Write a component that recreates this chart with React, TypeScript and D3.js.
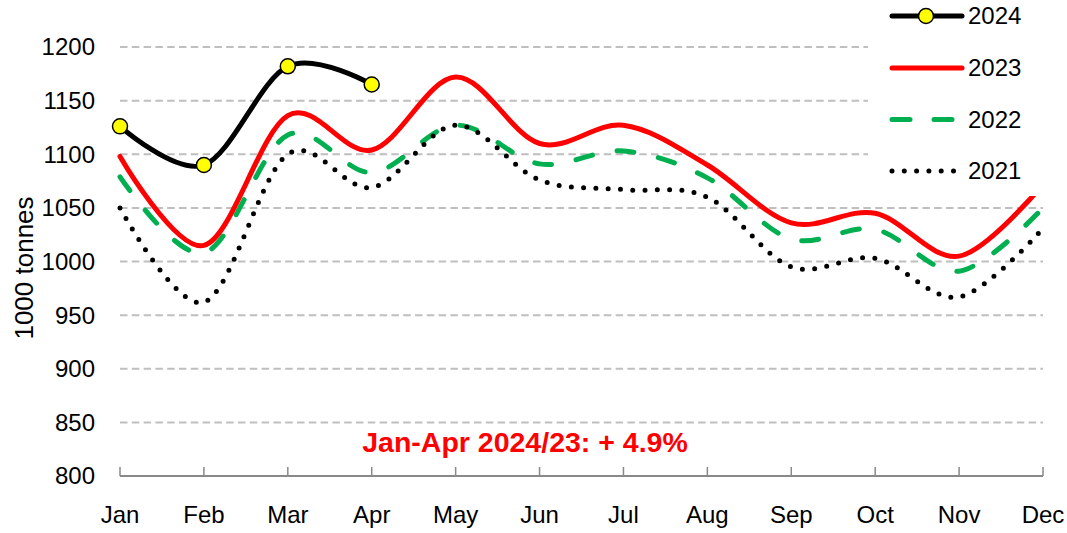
import React from "react";
import * as d3 from "d3";

const months = ["Jan", "Feb", "Mar", "Apr", "May", "Jun", "Jul", "Aug", "Sep", "Oct", "Nov", "Dec"];
const yTicks = [800, 850, 900, 950, 1000, 1050, 1100, 1150, 1200];
const s2024 = [1126, 1090, 1182, 1165];
const s2023 = [1098, 1015, 1136, 1104, 1172, 1110, 1127, 1090, 1036, 1045, 1005, 1072];
const s2022 = [1079, 1008, 1118, 1083, 1127, 1091, 1103, 1078, 1021, 1030, 991, 1050];
const s2021 = [1050, 962, 1100, 1069, 1127, 1076, 1067, 1060, 995, 1003, 967, 1031];
const annotation = "Jan-Apr 2024/23: + 4.9%";
const yTitle = "1000 tonnes";

const W = 1067, H = 533;
const FONT = "'Liberation Sans', Arial, sans-serif";

export default function App() {
  const x = d3.scalePoint<string>().domain(months).range([120, 1043]);
  const y = d3.scaleLinear().domain([800, 1200]).range([476, 47]);
  const line = d3
    .line<number>()
    .x((_, i) => x(months[i]) as number)
    .y((d) => y(d))
    .curve(d3.curveCardinal.tension(0));

  const series = [
    { name: "2022", data: s2022, color: "#00b050", dash: "17 25", cap: "round" },
    { name: "2021", data: s2021, color: "#000000", dash: "0 12.3", cap: "round" },
    { name: "2023", data: s2023, color: "#ff0000", dash: undefined, cap: "round" },
    { name: "2024", data: s2024, color: "#000000", dash: undefined, cap: "round" },
  ];

  const legend = [
    { name: "2024", y: 16, color: "#000", dash: undefined, marker: true },
    { name: "2023", y: 68, color: "#ff0000", dash: undefined, marker: false },
    { name: "2022", y: 119.5, color: "#00b050", dash: "18 24", marker: false },
    { name: "2021", y: 171, color: "#000", dash: "0 12.3", marker: false },
  ];

  return (
    <svg
      width={W}
      height={H}
      style={{ position: "absolute", left: 0, top: 0, background: "#fff" }}
      fontFamily={FONT}
    >
      <rect x={0} y={0} width={W} height={H} fill="#fff" />
      {/* gridlines */}
      {yTicks.filter((t) => t > 800).map((t) => (
        <line
          key={t}
          x1={120}
          x2={1043}
          y1={y(t)}
          y2={y(t)}
          stroke="#bfbfbf"
          strokeWidth={2}
          strokeDasharray="7.5 4.3"
        />
      ))}
      {/* axis */}
      <line x1={120} x2={1043} y1={y(800)} y2={y(800)} stroke="#898989" strokeWidth={2} />
      {months.map((m) => (
        <line
          key={m}
          x1={x(m)}
          x2={x(m)}
          y1={y(800)}
          y2={y(800) - 9}
          stroke="#898989"
          strokeWidth={1.5}
        />
      ))}
      {/* y tick labels */}
      {yTicks.map((t) => (
        <text key={t} x={95} y={y(t)} dy="0.35em" textAnchor="end" fontSize={24} fill="#000">
          {t}
        </text>
      ))}
      {/* x labels */}
      {months.map((m) => (
        <text key={m} x={x(m)} y={523} textAnchor="middle" fontSize={24} fill="#000">
          {m}
        </text>
      ))}
      {/* y title */}
      <text
        transform={`translate(24,268) rotate(-90)`}
        textAnchor="middle"
        dy="0.35em"
        fontSize={26}
        fill="#000"
      >
        {yTitle}
      </text>
      {/* series */}
      {series.map((s) => (
        <path
          key={s.name}
          d={line(s.data) || ""}
          fill="none"
          stroke={s.color}
          strokeWidth={5}
          strokeDasharray={s.dash}
          strokeLinecap={s.cap as any}
          strokeLinejoin="round"
        />
      ))}
      {s2024.map((v, i) => (
        <circle
          key={i}
          cx={x(months[i])}
          cy={y(v)}
          r={7.5}
          fill="#ffff00"
          stroke="#000"
          strokeWidth={1.5}
        />
      ))}
      {/* annotation */}
      <text x={525} y={452} textAnchor="middle" fontSize={28.5} fontWeight="bold" fill="#ff0000">
        {annotation}
      </text>
      {/* legend */}
      <rect x={868} y={0} width={W - 868} height={196} fill="#fff" />
      {legend.map((l) => (
        <g key={l.name}>
          <line
            x1={892}
            x2={962}
            y1={l.y}
            y2={l.y}
            stroke={l.color}
            strokeWidth={5}
            strokeDasharray={l.dash}
            strokeLinecap="round"
          />
          {l.marker && (
            <circle cx={926} cy={l.y} r={7.5} fill="#ffff00" stroke="#000" strokeWidth={1.5} />
          )}
          <text x={968} y={l.y} dy="0.35em" fontSize={24} fill="#000">
            {l.name}
          </text>
        </g>
      ))}
    </svg>
  );
}
